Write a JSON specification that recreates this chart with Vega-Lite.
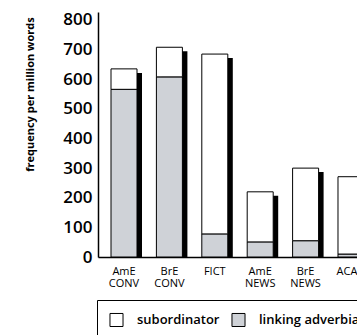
{
  "$schema": "https://vega.github.io/schema/vega-lite/v6.json",
  "autosize": {"type": "none"},
  "padding": {"left": 98, "top": 12, "right": 0, "bottom": 78},
  "width": 259,
  "height": 245,
  "background": "white",
  "config": {
    "view": {"stroke": null},
    "font": "Open Sans",
    "axisY": {
      "values": [0, 100, 200, 300, 400, 500, 600, 700, 800],
      "labelOverlap": false,
      "grid": false,
      "ticks": false,
      "domainColor": "black",
      "domainWidth": 1.5,
      "labelFontSize": 17,
      "labelFontWeight": 600,
      "labelColor": "black",
      "labelPadding": 6,
      "titleFontSize": 11,
      "titleFontWeight": 700,
      "titleColor": "black",
      "titleAngle": -90,
      "titleX": -68,
      "titleY": 82,
      "titleAlign": "center",
      "titleBaseline": "middle"
    }
  },
  "data": {
    "values": [
      {"cat": "AmE CONV", "type": "linking adverbial", "value": 566},
      {"cat": "AmE CONV", "type": "subordinator", "value": 69},
      {"cat": "BrE CONV", "type": "linking adverbial", "value": 608},
      {"cat": "BrE CONV", "type": "subordinator", "value": 100},
      {"cat": "FICT", "type": "linking adverbial", "value": 78},
      {"cat": "FICT", "type": "subordinator", "value": 607},
      {"cat": "AmE NEWS", "type": "linking adverbial", "value": 51},
      {"cat": "AmE NEWS", "type": "subordinator", "value": 169},
      {"cat": "BrE NEWS", "type": "linking adverbial", "value": 55},
      {"cat": "BrE NEWS", "type": "subordinator", "value": 245},
      {"cat": "ACAD", "type": "linking adverbial", "value": 10},
      {"cat": "ACAD", "type": "subordinator", "value": 261}
    ]
  },
  "encoding": {
    "x": {
      "field": "cat",
      "type": "nominal",
      "sort": ["AmE CONV", "BrE CONV", "FICT", "AmE NEWS", "BrE NEWS", "ACAD"],
      "scale": {"range": [0, 279], "paddingInner": 0.4, "paddingOuter": 0.2727},
      "axis": {
        "title": null,
        "labelAngle": 0,
        "labelExpr": "split(datum.value, ' ')",
        "labelFontSize": 11,
        "labelFontWeight": 500,
        "labelColor": "black",
        "labelLineHeight": 12,
        "labelPadding": 8,
        "labelBaseline": "top",
        "labelOverlap": false,
        "ticks": false,
        "domainColor": "black",
        "domainWidth": 1.5
      }
    }
  },
  "layer": [
    {
      "mark": {"type": "bar", "width": 26, "color": "black", "xOffset": 5, "yOffset": 4, "y2Offset": 0},
      "encoding": {
        "y": {
          "aggregate": "sum",
          "field": "value",
          "type": "quantitative",
          "scale": {"domain": [0, 827], "nice": false},
          "axis": {"title": "frequency per million words", "values": [0, 100, 200, 300, 400, 500, 600, 700, 800], "labelOverlap": false}
        }
      }
    },
    {
      "mark": {"type": "bar", "width": 26, "stroke": "black", "strokeWidth": 1},
      "encoding": {
        "y": {
          "field": "value",
          "type": "quantitative",
          "stack": "zero",
          "scale": {"domain": [0, 827], "nice": false},
          "axis": {"title": "frequency per million words", "values": [0, 100, 200, 300, 400, 500, 600, 700, 800], "labelOverlap": false}
        },
        "color": {
          "field": "type",
          "type": "nominal",
          "scale": {"domain": ["subordinator", "linking adverbial"], "range": ["white", "#cfd2d7"]},
          "legend": {
            "title": null,
            "orient": "none",
            "direction": "horizontal",
            "legendX": -1,
            "legendY": 288,
            "strokeColor": "black",
            "padding": 12,
            "symbolType": "square",
            "symbolSize": 170,
            "symbolStrokeColor": "black",
            "symbolStrokeWidth": 1,
            "symbolOpacity": 1,
            "labelFontSize": 13,
            "labelFontWeight": 600,
            "labelColor": "black",
            "labelOffset": 13,
            "columnPadding": 9
          }
        },
        "order": {"field": "type", "sort": "ascending"}
      }
    }
  ]
}
